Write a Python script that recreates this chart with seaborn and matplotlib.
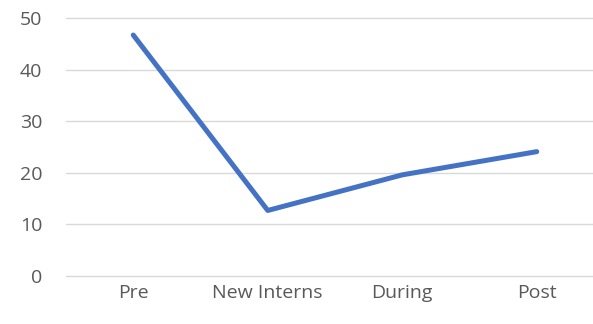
import matplotlib
matplotlib.use("Agg")
import matplotlib.pyplot as plt
import seaborn as sns
import pandas as pd

categories = ["Pre", "New Interns", "During", "Post"]
values = [46.7, 12.7, 19.6, 24.1]
y_ticks = [0, 10, 20, 30, 40, 50]

sns.set_theme(style="white")
plt.rcParams["font.family"] = ["Open Sans", "DejaVu Sans"]

df = pd.DataFrame({"stage": categories, "value": values})

fig = plt.figure(figsize=(5.93, 3.24), dpi=100)
ax = fig.add_axes([66 / 593, 48 / 324, (604 - 66) / 593, (276 - 18) / 324])

sns.lineplot(data=df, x="stage", y="value", ax=ax, sort=False,
             color="#4472C4", linewidth=3.6, solid_capstyle="round",
             solid_joinstyle="round")

ax.set_xlim(-0.5, len(categories) - 0.5)
ax.set_ylim(0, 50)
ax.set_yticks(y_ticks)
ax.set_yticklabels([str(t) for t in y_ticks])
ax.yaxis.grid(True, color="#d9d9d9", linewidth=1.0)
ax.xaxis.grid(False)
ax.set_axisbelow(True)
for gl in ax.get_ygridlines():
    gl.set_clip_on(False)
for s in ax.spines.values():
    s.set_visible(False)
ax.tick_params(axis="y", length=0, pad=17, labelsize=14, labelcolor="#595959")
ax.tick_params(axis="x", length=0, pad=6, labelsize=14, labelcolor="#595959")
ax.set_xlabel("")
ax.set_ylabel("")

fig.savefig("out.png", dpi=100)
